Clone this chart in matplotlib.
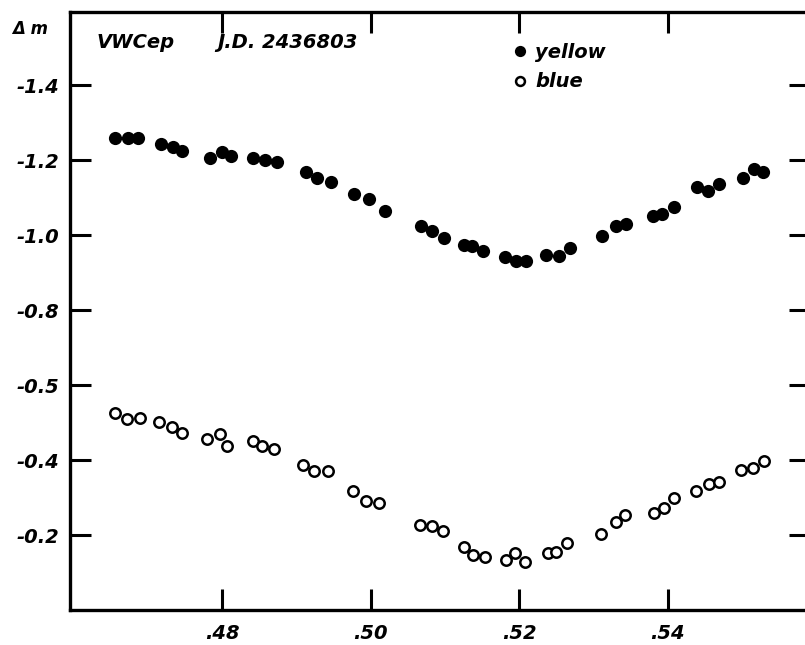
import matplotlib
matplotlib.use('Agg')
import matplotlib.pyplot as plt

# Yellow (filled circles)
phase_yellow = [0.4655, 0.4673, 0.4686, 0.4717, 0.4733, 0.4746, 0.4783, 0.4799, 0.4811,
                0.4841, 0.4858, 0.4874, 0.4912, 0.4928, 0.4947, 0.4977, 0.4998, 0.5019,
                0.5068, 0.5083, 0.5098, 0.5125, 0.5136, 0.5151, 0.5181, 0.5196, 0.5209,
                0.5236, 0.5254, 0.5269, 0.5312, 0.5330, 0.5344, 0.5380, 0.5393, 0.5408,
                0.5440, 0.5455, 0.5469, 0.5501, 0.5517, 0.5529]
dm_yellow = [-1.258, -1.258, -1.258, -1.243, -1.235, -1.223, -1.205, -1.221, -1.211,
             -1.205, -1.201, -1.194, -1.167, -1.152, -1.141, -1.109, -1.096, -1.065,
             -1.025, -1.011, -0.992, -0.974, -0.971, -0.958, -0.942, -0.931, -0.930,
             -0.947, -0.945, -0.965, -0.998, -1.025, -1.029, -1.051, -1.056, -1.075,
             -1.129, -1.117, -1.136, -1.152, -1.176, -1.167]

# Blue (open circles)
phase_blue = [0.4655, 0.4671, 0.4689, 0.4715, 0.4732, 0.4746, 0.4779, 0.4797, 0.4806,
              0.4841, 0.4854, 0.4870, 0.4908, 0.4923, 0.4942, 0.4976, 0.4993, 0.5011,
              0.5066, 0.5082, 0.5097, 0.5126, 0.5138, 0.5154, 0.5182, 0.5195, 0.5208,
              0.5239, 0.5250, 0.5264, 0.5310, 0.5330, 0.5342, 0.5381, 0.5395, 0.5409,
              0.5438, 0.5456, 0.5469, 0.5499, 0.5515, 0.5530]
dm_blue = [-0.525, -0.509, -0.512, -0.501, -0.487, -0.471, -0.456, -0.469, -0.438,
           -0.451, -0.437, -0.429, -0.387, -0.370, -0.370, -0.318, -0.291, -0.285,
           -0.227, -0.223, -0.210, -0.167, -0.147, -0.141, -0.133, -0.151, -0.127,
           -0.152, -0.155, -0.178, -0.203, -0.234, -0.253, -0.259, -0.272, -0.298,
           -0.317, -0.336, -0.342, -0.373, -0.378, -0.397]

y_ticks = [-1.4, -1.2, -1.0, -0.8, -0.6, -0.4, -0.2]
y_tick_labels = ['-1.4', '-1.2', '-1.0', '-0.8', '-0.5', '-0.4', '-0.2']
x_ticks = [0.48, 0.50, 0.52, 0.54]
x_tick_labels = ['.48', '.50', '.52', '.54']

FONT = dict(family='DejaVu Sans', weight='bold', style='italic')

fig = plt.figure(figsize=(8.05, 6.45), dpi=100)
W, H = 805, 645
ax = fig.add_axes([70 / W, (H - 610) / H, 740 / W, 598 / H])

ax.plot(phase_yellow, dm_yellow, 'o', color='black', markersize=9.5,
        markeredgewidth=0, label='yellow')
ax.plot(phase_blue, dm_blue, 'o', markerfacecolor='white', markeredgecolor='black',
        markersize=7.5, markeredgewidth=1.8, label='blue')

ax.set_xlim(0.45946, 0.55919)
ax.set_ylim(0, -1.595)

ax.set_xticks(x_ticks)
ax.set_xticklabels(x_tick_labels, fontsize=14, **FONT)
ax.set_yticks(y_ticks)
ax.set_yticklabels(y_tick_labels, fontsize=14, **FONT)

ax.tick_params(direction='in', length=15, width=2.2, top=True, right=True,
               labeltop=False, labelright=False)
ax.tick_params(axis='x', pad=10)
ax.tick_params(axis='y', pad=8)
for s in ax.spines.values():
    s.set_linewidth(2.4)

leg = ax.legend(loc='upper left', bbox_to_anchor=(502 / W, 1 - 33 / H),
                bbox_transform=fig.transFigure, frameon=False, borderpad=0,
                handlelength=0.8, handletextpad=0.4, labelspacing=0.55,
                markerscale=0.85, prop=dict(size=14, **FONT))

fig.text(12 / W, 1 - 29 / H, 'Δ m', fontsize=12, va='center', ha='left', **FONT)
fig.text(97 / W, 1 - 43 / H, 'VWCep', fontsize=14, va='center', ha='left', **FONT)
fig.text(217 / W, 1 - 43 / H, 'J.D. 2436803', fontsize=14, va='center', ha='left', **FONT)

fig.savefig('out.png', dpi=100)
